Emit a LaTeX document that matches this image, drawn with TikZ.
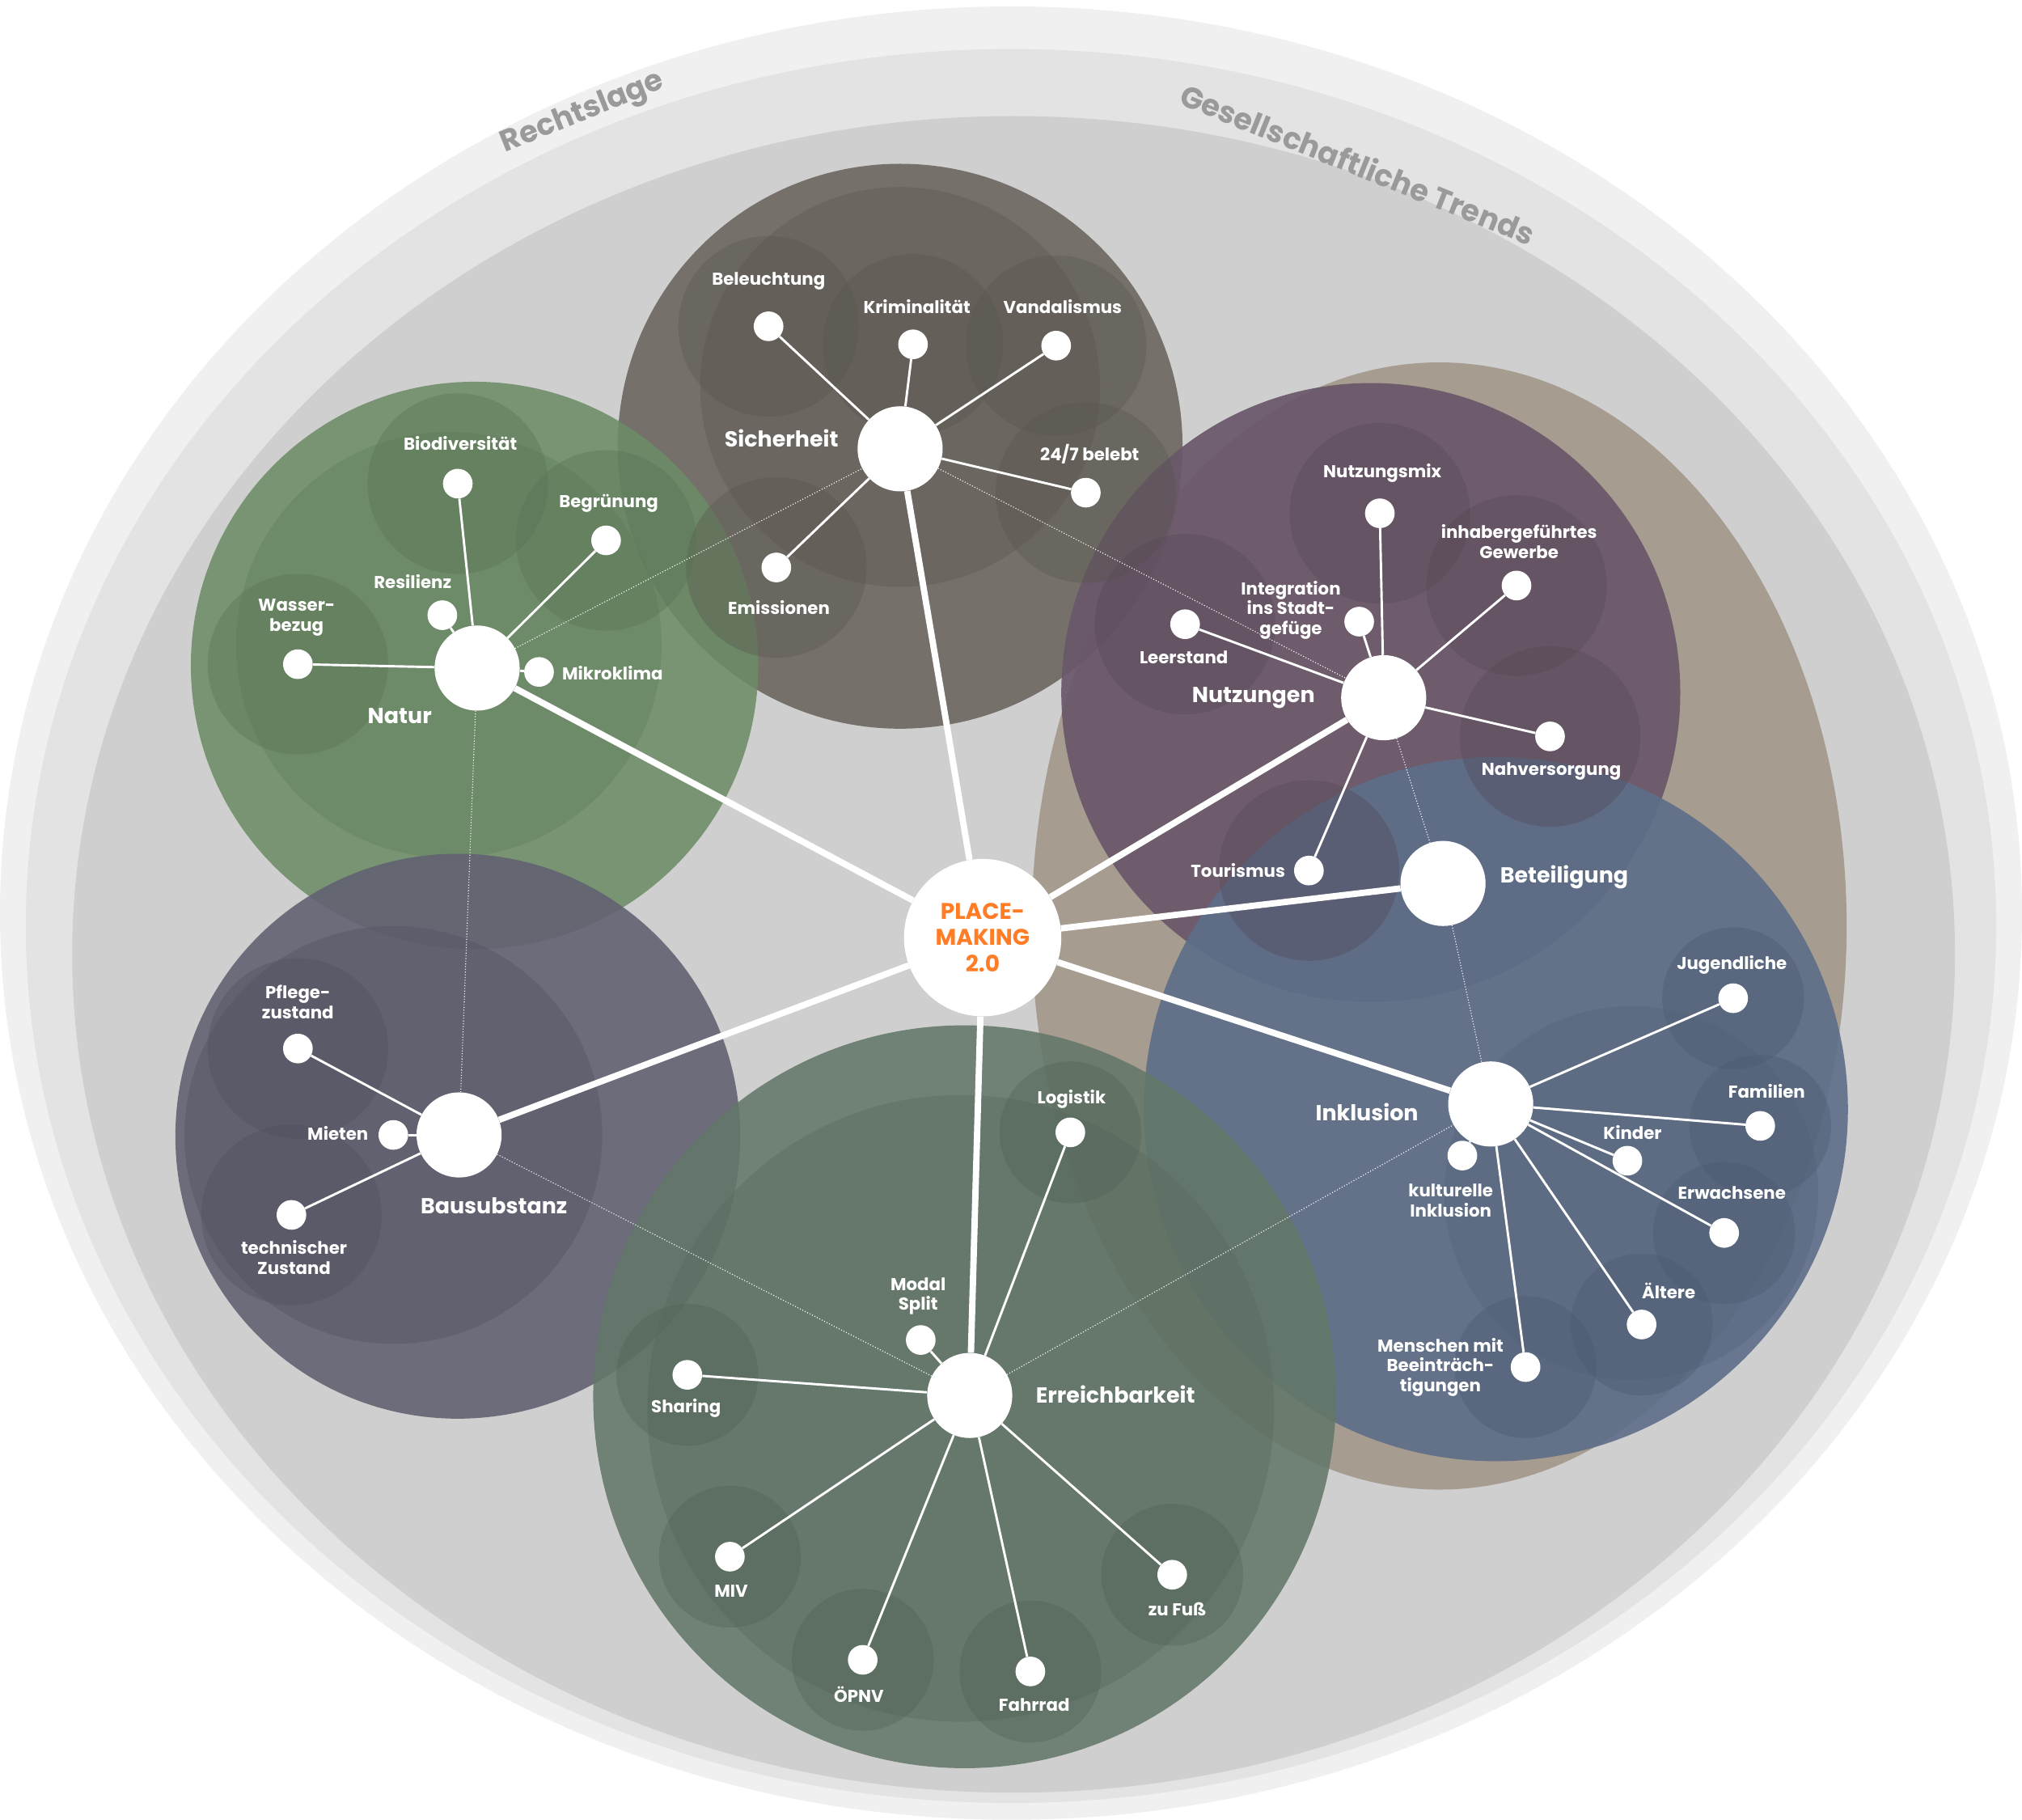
\documentclass[tikz,border=0pt]{standalone}
\usepackage{fontspec}
\setmainfont{Poppins}
\begin{document}
\begin{tikzpicture}[x=0.05cm,y=-0.05cm,
  lab/.style={text=white,font=\fontsize{19}{22}\selectfont\bfseries,align=center,inner sep=0},
  hlab/.style={text=white,font=\fontsize{24}{28}\selectfont\bfseries,inner sep=0},
  hub/.style={circle,fill=white,minimum size=3.3cm,inner sep=0},
  sat/.style={circle,fill=white,minimum size=1.15cm,inner sep=0},
  spoke/.style={white,line width=7pt},
  twig/.style={white,line width=2.6pt},
  dot/.style={white,line width=1pt,dotted},
  halo/.style={fill=#1,fill opacity=0.35}]
\useasboundingbox (0,0) rectangle (1568,1411);
\definecolor{sich}{HTML}{6E6962}
\definecolor{nat}{HTML}{6C8C66}
\definecolor{nutz}{HTML}{6A5769}
\definecolor{inkl}{HTML}{5D6E89}
\definecolor{baus}{HTML}{626272}
\definecolor{erre}{HTML}{637769}
\definecolor{brn}{HTML}{A3978A}
\definecolor{ttl}{HTML}{9A9A9A}
\fill[white] (0,0) rectangle (1568,1411);
\fill[gray!12] (784,708) ellipse [x radius=784,y radius=703];
\fill[gray!22] (784,718) ellipse [x radius=764,y radius=680];
\fill[gray!38] (786,740) ellipse [x radius=730,y radius=650];
\node[text=ttl,font=\fontsize{33}{36}\selectfont\bfseries,rotate=22] (rl) at (452,88) {Rechtslage};
\node[text=ttl,font=\fontsize{33}{36}\selectfont\bfseries,rotate=-22] (gt) at (1053,127) {Gesellschaftliche Trends};
% clusters
\fill[brn,fill opacity=0.9] (1116,718) ellipse [x radius=316,y radius=437];
\fill[sich,fill opacity=0.92] (698,346) circle (219);
\fill[sich!90!black,fill opacity=0.5] (698,300) circle (155);
\fill[nat,fill opacity=0.88] (368,516) circle (220);
\fill[nat!90!black,fill opacity=0.4] (348,500) circle (165);
\fill[nutz,fill opacity=0.92] (1063,537) circle (240);
\fill[inkl,fill opacity=0.9] (1160,860) circle (273);
\fill[inkl!90!black,fill opacity=0.4] (1265,925) circle (145);
\fill[baus,fill opacity=0.9] (355,881) circle (219);
\fill[baus!90!black,fill opacity=0.5] (305,880) circle (162);
\fill[erre,fill opacity=0.88] (748,1083) circle (288);
\fill[erre!90!black,fill opacity=0.4] (745,1092) circle (243);
% halos
\foreach \p in {(596,253),(708,267),(819,268),(842,382),(602,440)} \fill[halo=sich!80!black] \p circle (70);
\foreach \p in {(355,375),(470,419),(231,515)} \fill[halo=nat!80!black] \p circle (70);
\foreach \p in {(1070,398),(1176,454),(919,484),(1202,571),(1015,675)} \fill[halo=nutz!80!black] \p circle (70);
\foreach \p in {(1344,774),(1365,873),(1337,956),(1273,1027),(1183,1060)} \fill[halo=inkl!80!black] \p circle (55);
\foreach \p in {(231,813),(226,942)} \fill[halo=baus!80!black] \p circle (70);
\foreach \p in {(830,878),(533,1066),(566,1207),(669,1287),(799,1296),(909,1221)} \fill[halo=erre!80!black] \p circle (55);
% hubs
\node[circle,fill=white,minimum size=6.1cm,inner sep=0,text=orange!80!red!85!white,font=\fontsize{25}{29}\selectfont\bfseries,align=center] (c) at (762,727) {PLACE-\\MAKING\\2.0};
\node[hub] (si) at (698,348) {};
\node[hub] (na) at (370,518) {};
\node[hub] (nu) at (1073,541) {};
\node[hub] (be) at (1119,685) {};
\node[hub] (in) at (1156,856) {};
\node[hub] (ba) at (356,880) {};
\node[hub] (er) at (752,1082) {};
\node[hlab] (lsi) at (606,340) {Sicherheit};
\node[hlab] (lna) at (310,555) {Natur};
\node[hlab] (lnu) at (972,541) {Nutzungen};
\node[hlab] (lbe) at (1213,680) {Beteiligung};
\node[hlab] (lin) at (1060,862) {Inklusion};
\node[hlab] (lba) at (383,935) {Bausubstanz};
\node[hlab] (ler) at (865,1081) {Erreichbarkeit};
\foreach \h in {si,na,nu,be,in,ba,er} \draw[spoke] (c) -- (\h);
\draw[dot] (na) -- (si); \draw[dot] (si) -- (nu); \draw[dot] (na) -- (ba);
\draw[dot] (ba) -- (er); \draw[dot] (er) -- (in); \draw[dot] (nu) -- (be); \draw[dot] (be) -- (in);
% satellites
\foreach \n/\x/\y/\lx/\ly/\t/\h in {
 s1/596/253/596/218/Beleuchtung/si, s2/708/267/711/238/Kriminalität/si, s3/819/268/824/238/Vandalismus/si,
 s4/842/382/845/352/24\slash 7 belebt/si, s5/602/440/604/471/Emissionen/si,
 n1/355/375/357/344/Biodiversität/na, n2/470/419/472/390/Begrünung/na, n3/343/477/320/451/Resilienz/na,
 n4/231/515/230/479/Wasser-\\bezug/na, n5/418/521/475/522/Mikroklima/na,
 u1/1070/398/1072/367/Nutzungsmix/nu, u2/1176/454/1178/420/inhabergeführtes\\Gewerbe/nu,
 u3/1054/482/1001/473/Integration\\ins Stadt-\\gefüge/nu, u4/919/484/918/510/Leerstand/nu,
 u5/1202/571/1203/598/Nahversorgung/nu, u6/1015/675/960/675/Tourismus/nu,
 i1/1344/774/1343/748/Jugendliche/in, i2/1365/873/1370/846/Familien/in, i3/1262/900/1266/878/Kinder/in,
 i4/1337/956/1343/925/Erwachsene/in, i5/1273/1027/1294/1001/Ältere/in,
 i6/1183/1060/1117/1060/Menschen mit\\Beeinträch-\\tigungen/in, i7/1134/896/1125/931/kulturelle\\Inklusion/in,
 b1/231/813/231/777/Pflege-\\zustand/ba, b2/305/880/262/879/Mieten/ba, b3/226/942/228/975/technischer\\Zustand/ba,
 e1/830/878/831/852/Logistik/er, e2/714/1039/712/1005/Modal\\Split/er, e3/533/1066/532/1092/Sharing/er,
 e4/566/1207/567/1234/MIV/er, e5/669/1287/666/1314/ÖPNV/er, e6/799/1296/802/1322/Fahrrad/er, e7/909/1221/913/1248/zu Fuß/er}
 {\node[sat] (\n) at (\x,\y) {};
  \draw[twig] (\h) -- (\n);
  \node[lab] (l\n) at (\lx,\ly) {\t};}
\end{tikzpicture}
\end{document}
